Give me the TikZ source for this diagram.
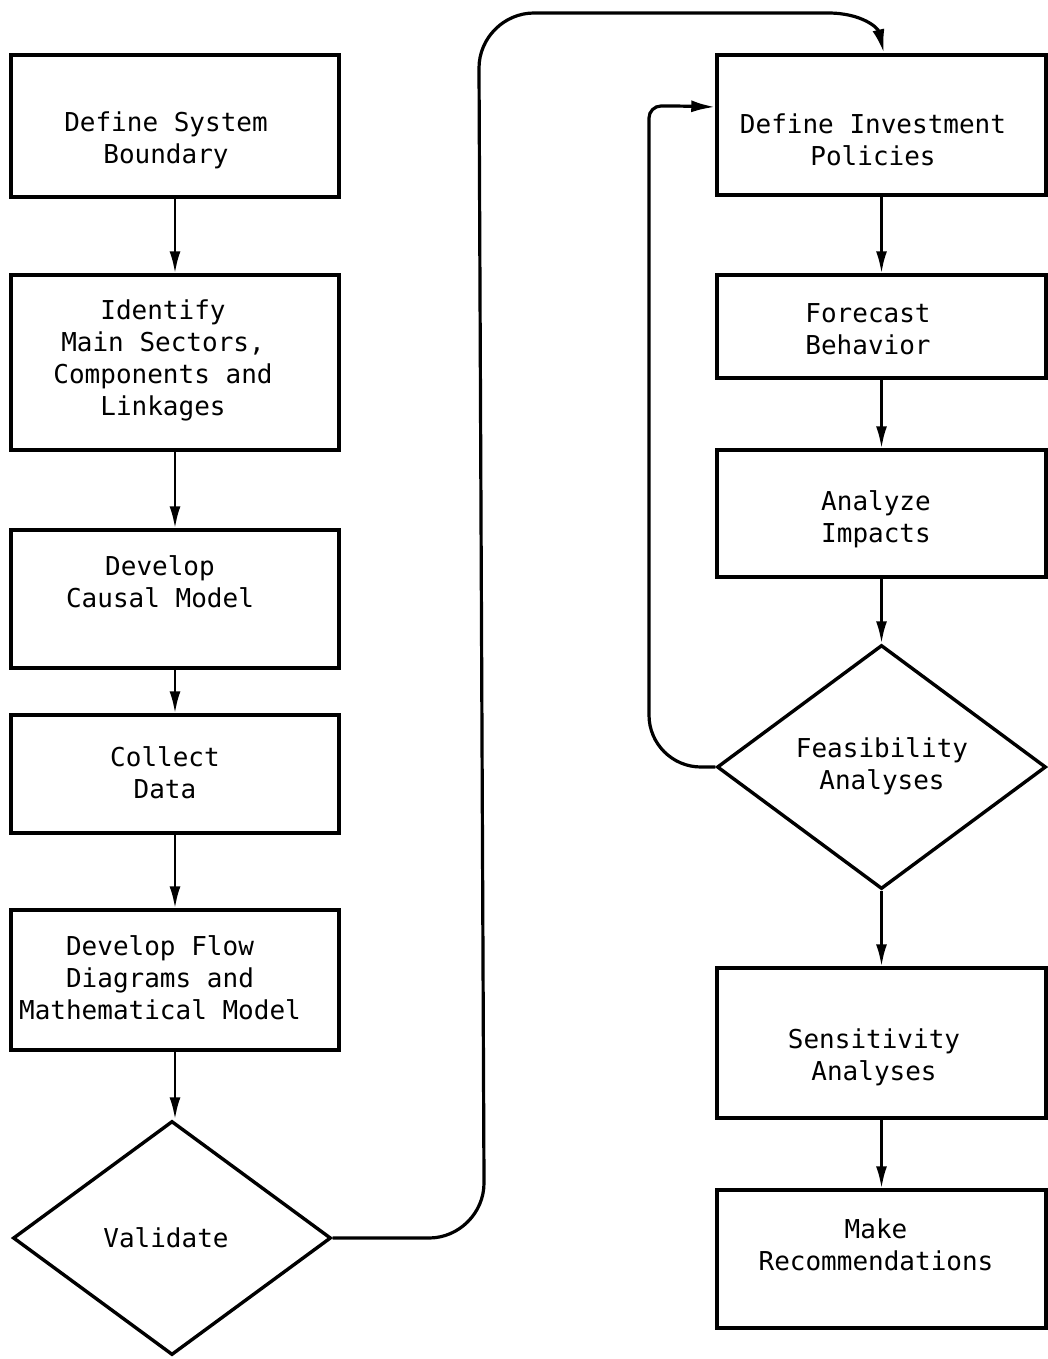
\documentclass[tikz,border=0pt]{standalone}
\usepackage{fontspec}
\setmonofont{DejaVu Sans Mono}
\usetikzlibrary{arrows.meta,shapes.geometric}
\begin{document}
\begin{tikzpicture}[x=1pt,y=-1pt,
  box/.style={draw, line width=3.4pt, inner sep=0pt},
  decision/.style={draw, diamond, line width=3.4pt, inner sep=0pt},
  label/.style={font=\ttfamily\fontsize{26}{32}\selectfont, align=center, inner sep=0pt},
  flow/.style={line width=2.6pt, -{Latex[length=22pt,width=11pt]}},
  loop/.style={line width=3.2pt, -{Latex[length=24pt,width=12pt]}}]
\useasboundingbox (0,0) rectangle (1048,1359);

% left column
\node[box, minimum width=328pt, minimum height=142pt] (b1) at (175,126) {};
\node[box, minimum width=328pt, minimum height=175pt] (b2) at (175,362.5) {};
\node[box, minimum width=328pt, minimum height=138pt] (b3) at (175,599) {};
\node[box, minimum width=328pt, minimum height=118pt] (b4) at (175,774) {};
\node[box, minimum width=328pt, minimum height=140pt] (b5) at (175,980) {};
\node[decision, minimum width=318pt, minimum height=234pt] (v) at (172,1238) {};

\node[label] (t1) at (166,140) {Define System\\Boundary};
\node[label] (t2) at (163,360) {Identify\\Main Sectors,\\Components and\\Linkages};
\node[label] (t3) at (160,582) {Develop\\Causal Model};
\node[label] (t4) at (165,773) {Collect\\Data};
\node[label] (t5) at (160,978) {Develop Flow\\Diagrams and\\Mathematical Model};
\node[label] (t6) at (166,1238) {Validate};

% right column
\node[box, minimum width=329pt, minimum height=140pt] (b7) at (881.5,125) {};
\node[box, minimum width=329pt, minimum height=103pt] (b8) at (881.5,326.5) {};
\node[box, minimum width=329pt, minimum height=127pt] (b9) at (881.5,513.5) {};
\node[decision, minimum width=329pt, minimum height=244pt] (f) at (881.5,767) {};
\node[box, minimum width=329pt, minimum height=150pt] (b11) at (881.5,1043) {};
\node[box, minimum width=329pt, minimum height=138pt] (b12) at (881.5,1259) {};

\node[label] (t7) at (873,140) {Define Investment\\Policies};
\node[label] (t8) at (868,329) {Forecast\\Behavior};
\node[label] (t9) at (876,519) {Analyze\\Impacts};
\node[label] (t10) at (882,766) {Feasibility\\Analyses};
\node[label] (t11) at (874,1057) {Sensitivity\\Analyses};
\node[label] (t12) at (876,1245) {Make\\Recommendations};

% straight links
\draw[flow] (b1.south) -- (b2.north);
\draw[flow] (b2.south) -- (b3.north);
\draw[flow] (b3.south) -- (b4.north);
\draw[flow] (b4.south) -- (b5.north);
\draw[flow] (b5.south) -- (b5.south |- v.north);
\draw[flow] (b7.south) -- (b8.north);
\draw[flow] (b8.south) -- (b9.north);
\draw[flow] (b9.south) -- (f.north);
\draw[flow] (f.south) -- (b11.north);
\draw[flow] (b11.south) -- (b12.north);

% from Validate over the top to the policy box
\coordinate (p1) at (429,1238);
\coordinate (p2) at (484,1183);
\coordinate (p3) at (479,68);
\coordinate (p4) at (534,13);
\coordinate (p5) at (828,13);
\coordinate (pt) at (884,0);
\draw[loop] (v.east) -- (p1) .. controls (459,1238) and (484,1213) .. (p2)
  -- (p3) .. controls (479,38) and (504,13) .. (p4)
  -- (p5) .. controls (862,13) and (878,28) .. (b7.north -| pt);

% feedback from the feasibility test
\coordinate (q1) at (649,767);
\coordinate (q2) at (649,106);
\coordinate (q3) at (680,106);
\coordinate (qt) at (0,107);
\draw[loop, rounded corners=52pt] (f.west) -- (q1)
  [rounded corners=12pt] -- (q2) -- (q3) [rounded corners=0pt] -- (b7.west |- qt);
\end{tikzpicture}
\end{document}
